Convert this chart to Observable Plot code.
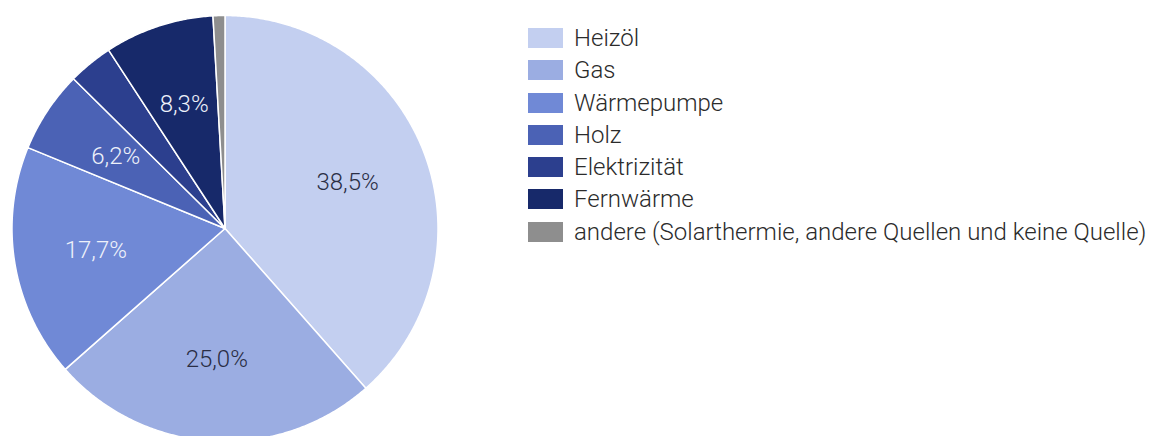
<!DOCTYPE html>
<html>
<head>
<meta charset="utf-8">
<script src="https://cdn.jsdelivr.net/npm/d3@7"></script>
<script src="https://cdn.jsdelivr.net/npm/@observablehq/plot@0.6"></script>
<style>
  html, body { margin: 0; padding: 0; background: #fff; overflow: hidden; }
  #wrap { position: relative; width: 1159px; height: 436px; font-family: Roboto, sans-serif; }
  #chart { position: absolute; left: 0; top: 0; }
  #legend { position: absolute; left: 528px; top: 21.8px; }
  .row { display: flex; align-items: center; height: 32.3px; }
  .sw { width: 35px; height: 20px; margin-right: 11px; flex: none; }
  .lab { font-size: 24px; font-weight: 300; color: #2b2b2b; white-space: nowrap; line-height: 1; }
</style>
</head>
<body>
<div id="wrap"><div id="chart"></div><div id="legend"></div></div>
<script>
const categories = ["Heizöl", "Gas", "Wärmepumpe", "Holz", "Elektrizität", "Fernwärme", "andere (Solarthermie, andere Quellen und keine Quelle)"];
const shares = [38.5, 25.0, 17.7, 6.2, 3.4, 8.3, 0.9];
const labels = ["38,5%", "25,0%", "17,7%", "6,2%", "", "8,3%", ""];
const colors = ["#c3cff0", "#9badE2", "#7089d6", "#4b62b5", "#2c3f8e", "#17296a", "#8e8e8e"];
const labelColors = ["#2a2e45", "#2a2e45", "#eef1fa", "#eef1fa", "#eef1fa", "#eef1fa", "#eef1fa"];

const data = categories.map((c, i) => ({cat: c, value: shares[i], label: labels[i], lc: labelColors[i]}));
const arcs = d3.pie().sort(null).value(d => d.value).startAngle(0).endAngle(2 * Math.PI)(data);

// polygon points per slice
const pts = [];
for (const a of arcs) {
  const n = Math.max(2, Math.ceil((a.endAngle - a.startAngle) / (Math.PI / 360)));
  pts.push({cat: a.data.cat, x: 0, y: 0});
  for (let k = 0; k <= n; k++) {
    const t = a.startAngle + (a.endAngle - a.startAngle) * k / n;
    pts.push({cat: a.data.cat, x: Math.sin(t), y: Math.cos(t)});
  }
  pts.push({cat: a.data.cat, x: 0, y: 0});
}
const labelR = 0.615;
const lab = arcs.filter(a => a.data.label).map(a => {
  const m = (a.startAngle + a.endAngle) / 2;
  return {x: labelR * Math.sin(m), y: labelR * Math.cos(m), text: a.data.label, lc: a.data.lc};
});

const R = 213, cx = 224.5, cy = 228;
const plot = Plot.plot({
  width: 460,
  height: 436,
  margin: 0,
  x: {domain: [-1, 1], range: [cx - R, cx + R], axis: null},
  y: {domain: [-1, 1], range: [cy + R, cy - R], axis: null},
  color: {domain: categories, range: colors},
  style: {overflow: "visible", background: "transparent"},
  marks: [
    Plot.line(pts, {x: "x", y: "y", z: "cat", fill: "cat", stroke: "#ffffff", strokeWidth: 1.5, strokeLinejoin: "round", curve: "linear"}),
    Plot.text(lab, {x: "x", y: "y", text: "text", fill: "lc", fontSize: 24, fontWeight: 300, fontFamily: "Roboto"})
  ]
});
document.getElementById("chart").appendChild(plot);

const legend = document.getElementById("legend");
categories.forEach((c, i) => {
  const row = document.createElement("div");
  row.className = "row";
  const sw = document.createElement("div");
  sw.className = "sw";
  sw.style.background = colors[i];
  const t = document.createElement("span");
  t.className = "lab";
  t.textContent = c;
  row.appendChild(sw); row.appendChild(t);
  legend.appendChild(row);
});
</script>
</body>
</html>
